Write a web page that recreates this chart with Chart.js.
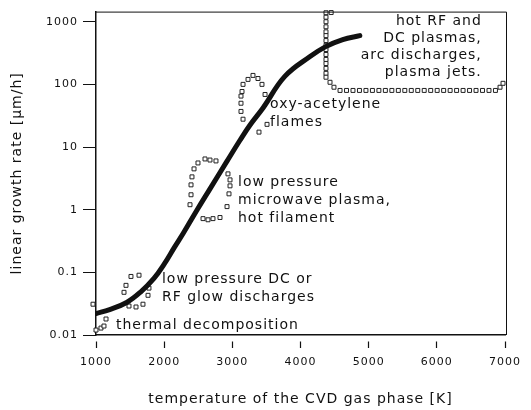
<!DOCTYPE html>
<html>
<head>
<meta charset="utf-8">
<script src="https://cdn.jsdelivr.net/npm/chart.js@4"></script>
<style>
  html, body { margin: 0; padding: 0; background: #fff; }
</style>
</head>
<body>
<canvas id="cvdChart" width="531" height="410"></canvas>
<script>
// axis ticks
const xTicks = [1000, 2000, 3000, 4000, 5000, 6000, 7000];
const yTicks = [0.01, 0.1, 1, 10, 100, 1000];

// growth rate curve: temperature [K] -> linear growth rate [µm/h]
const curveT    = [1000, 1200, 1450, 1650, 1850, 2000, 2150, 2280, 2480, 2670, 2920, 3110, 3260, 3450, 3770, 4140, 4370, 4620, 4870];
const curveRate = [0.022, 0.0254, 0.033, 0.048, 0.08, 0.135, 0.25, 0.42, 0.98, 2.13, 5.9, 12.7, 22.5, 42, 134, 278, 400, 518, 600];

// dotted outlines of the process regions
const thermalT    = [956, 868, 839, 795, 853, 912, 1000, 1073, 1117, 1147];
const thermalRate = [0.031, 0.025, 0.022, 0.018, 0.0144, 0.0124, 0.012, 0.0129, 0.0139, 0.018];

const dcT    = [1411, 1440, 1513, 1631, 1777, 1763, 1689, 1587, 1484];
const dcRate = [0.048, 0.062, 0.086, 0.090, 0.056, 0.043, 0.031, 0.028, 0.029];

const microT    = [2379, 2394, 2394, 2408, 2438, 2496, 2599, 2672, 2760, 2936, 2966, 2966, 2951, 2922, 2819, 2716, 2643, 2570];
const microRate = [1.2, 1.73, 2.49, 3.34, 4.48, 5.57, 6.45, 6.2, 6.0, 3.73, 2.99, 2.4, 1.79, 1.12, 0.75, 0.72, 0.69, 0.72];

const oxyT    = [3157, 3127, 3127, 3127, 3142, 3157, 3230, 3303, 3376, 3435, 3480, 3509, 3391];
const oxyRate = [27.8, 37, 50, 65, 77, 100, 120, 139, 124, 100, 69, 23, 17.3];

const plasmaT    = [4450, 4374, 4374, 4374, 4374, 4374, 4374, 4374, 4374, 4374, 4374, 4374, 4374, 4374, 4374, 4374,
                    4433, 4491, 4580, 4675, 4770, 4865, 4960, 5055, 5150, 5245, 5340, 5435, 5530, 5625, 5720,
                    5815, 5910, 6005, 6100, 6195, 6290, 6385, 6480, 6575, 6670, 6765, 6860, 6927, 6971];
const plasmaRate = [1400, 1390, 1180, 1000, 830, 690, 600, 500, 420, 360, 300, 250, 215, 180, 150, 130,
                    108, 90, 80, 80, 80, 80, 80, 80, 80, 80, 80, 80, 80, 80, 80,
                    80, 80, 80, 80, 80, 80, 80, 80, 80, 80, 80, 80, 90, 104];

// text notes, anchored in data units (first line)
const notes = [
  { lines: ['hot RF and', 'DC plasmas,', 'arc discharges,', 'plasma jets.'], t: 6660, rate: 1000, align: 'right', lh: 17 },
  { lines: ['oxy-acetylene', 'flames'], t: 3553, rate: 48, align: 'left', lh: 18 },
  { lines: ['low pressure', 'microwave plasma,', 'hot filament'], t: 3083, rate: 2.68, align: 'left', lh: 18 },
  { lines: ['low pressure DC or', 'RF glow discharges'], t: 1968, rate: 0.077, align: 'left', lh: 18 },
  { lines: ['thermal decomposition'], t: 1293, rate: 0.0144, align: 'left', lh: 18 }
];

const toPoints = (xs, ys) => xs.map((v, i) => ({ x: v, y: ys[i] }));

const ink = '#111';
const fontFamily = '"DejaVu Sans", sans-serif';

function markerSet(xs, ys) {
  return {
    type: 'scatter',
    data: toPoints(xs, ys),
    pointStyle: 'rect',
    pointRadius: 2.8,
    pointBorderWidth: 1,
    pointBorderColor: '#222',
    pointBackgroundColor: '#fff',
    showLine: false,
    clip: false
  };
}

// wider scanned-looking text
const spacingPlugin = {
  id: 'spacing',
  beforeLayout(chart) { chart.ctx.letterSpacing = '1px'; },
  beforeDraw(chart) { chart.ctx.letterSpacing = '1px'; }
};

// top and right frame lines
const framePlugin = {
  id: 'frame',
  afterDraw(chart) {
    const { ctx, chartArea: a } = chart;
    ctx.save();
    ctx.strokeStyle = ink;
    ctx.lineWidth = 1;
    ctx.beginPath();
    ctx.moveTo(a.left, a.top + 0.5);
    ctx.lineTo(a.right + 1.5, a.top + 0.5);
    ctx.lineTo(a.right + 1.5, a.bottom);
    ctx.stroke();
    ctx.restore();
  }
};

const notesPlugin = {
  id: 'notes',
  afterDatasetsDraw(chart) {
    const { ctx, scales: { x, y } } = chart;
    ctx.save();
    ctx.letterSpacing = '1px';
    ctx.font = '14px ' + fontFamily;
    ctx.fillStyle = ink;
    ctx.textBaseline = 'middle';
    notes.forEach(n => {
      ctx.textAlign = n.align;
      const px = x.getPixelForValue(n.t);
      const py = y.getPixelForValue(n.rate);
      n.lines.forEach((line, i) => ctx.fillText(line, px, py + i * n.lh));
    });
    ctx.restore();
  }
};

const ctx = document.getElementById('cvdChart').getContext('2d');
const cvdChart = new Chart(ctx, {
  type: 'line',
  data: {
    datasets: [
      {
        data: toPoints(curveT, curveRate),
        borderColor: ink,
        borderWidth: 5,
        pointRadius: 0,
        tension: 0.4,
        borderCapStyle: 'round',
        fill: false
      },
      markerSet(thermalT, thermalRate),
      markerSet(dcT, dcRate),
      markerSet(microT, microRate),
      markerSet(oxyT, oxyRate),
      markerSet(plasmaT, plasmaRate)
    ]
  },
  options: {
    responsive: false,
    animation: false,
    devicePixelRatio: 1,
    layout: { padding: { left: 0, right: 26, top: 10, bottom: 0 } },
    plugins: { legend: { display: false }, tooltip: { enabled: false } },
    scales: {
      x: {
        type: 'linear',
        min: 1000,
        max: 7000,
        afterBuildTicks: axis => { axis.ticks = xTicks.map(v => ({ value: v })); },
        afterFit: axis => { axis.height = 75; },
        ticks: {
          color: ink,
          padding: 8,
          maxRotation: 0,
          font: { family: fontFamily, size: 11 },
          callback: v => String(v)
        },
        grid: {
          drawOnChartArea: false,
          tickLength: 13,
          tickColor: ink,
          tickWidth: 1.2,
          tickBorderDash: [0, 6, 20]
        },
        border: { color: ink, width: 1.5 },
        title: {
          display: true,
          text: 'temperature of the CVD gas phase [K]',
          color: ink,
          font: { family: fontFamily, size: 14 },
          padding: { top: 0, bottom: 2 }
        }
      },
      y: {
        type: 'logarithmic',
        min: 0.01,
        max: 1450,
        afterBuildTicks: axis => { axis.ticks = yTicks.map(v => ({ value: v })); },
        afterFit: axis => { axis.width = 96; },
        ticks: {
          color: ink,
          padding: 5,
          font: { family: fontFamily, size: 11 },
          callback: v => String(v)
        },
        grid: {
          drawOnChartArea: false,
          tickLength: 13,
          tickColor: ink,
          tickWidth: 1
        },
        border: { color: ink, width: 1.5 },
        title: {
          display: true,
          text: 'linear growth rate [µm/h]',
          color: ink,
          font: { family: fontFamily, size: 14 },
          padding: { top: 9, bottom: 0 }
        }
      }
    }
  },
  plugins: [spacingPlugin, framePlugin, notesPlugin]
});
</script>
</body>
</html>
